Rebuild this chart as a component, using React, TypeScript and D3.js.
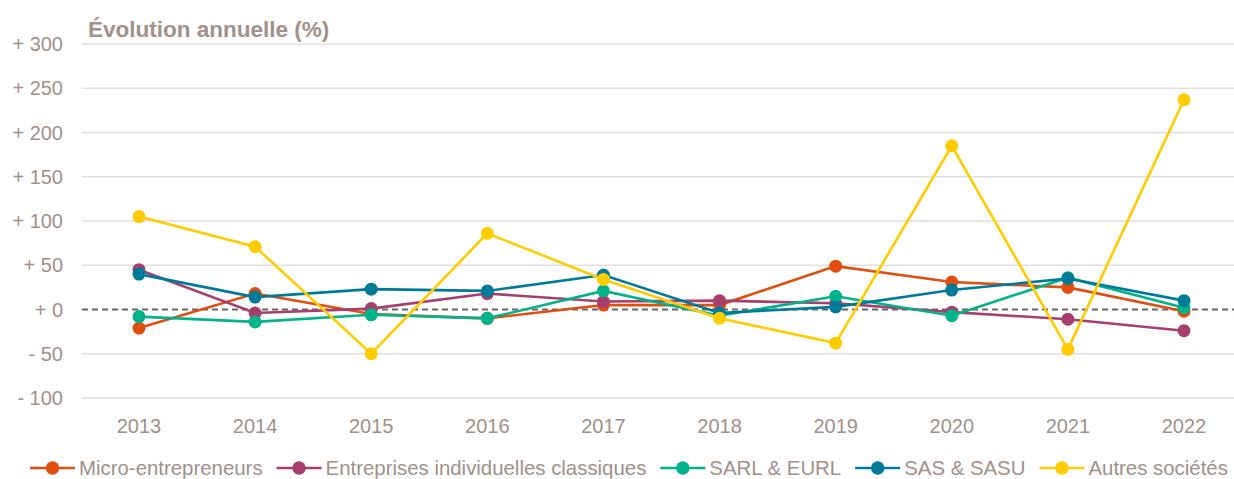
import React, { useLayoutEffect, useRef, useState } from "react";
import * as d3 from "d3";

const years = ["2013", "2014", "2015", "2016", "2017", "2018", "2019", "2020", "2021", "2022"];
const yTicks = [-100, -50, 0, 50, 100, 150, 200, 250, 300];

const micro = [-21, 18, -5, -10, 5, 5, 49, 31, 25, -2];
const entreprises = [45, -4, 1, 18, 9, 10, 7, -3, -11, -24];
const sarl = [-8, -14, -6, -10, 21, -7, 15, -7, 36, 2];
const sas = [40, 14, 23, 21, 39, -4, 3, 22, 35, 10];
const autres = [105, 71, -50, 86, 34, -10, -38, 185, -45, 237];

const series = [
  { name: "Micro-entrepreneurs", color: "#e04e10", values: micro },
  { name: "Entreprises individuelles classiques", color: "#a63f6e", values: entreprises },
  { name: "SARL & EURL", color: "#00b38a", values: sarl },
  { name: "SAS & SASU", color: "#007a99", values: sas },
  { name: "Autres sociétés", color: "#ffcc00", values: autres },
];

const W = 1234;
const H = 479;
const textColor = "#a0918a";
const font = "'Liberation Sans', Arial, sans-serif";

export default function App() {
  const legendRefs = useRef<(SVGTextElement | null)[]>([]);
  const [widths, setWidths] = useState<number[]>(series.map((s) => s.name.length * 10));

  useLayoutEffect(() => {
    const w = legendRefs.current.map((el) => (el ? el.getComputedTextLength() : 0));
    setWidths(w);
  }, []);

  const x = d3.scalePoint().domain(years).range([139, 1184]);
  const y = d3.scaleLinear().domain([-100, 300]).range([398, 44]);

  const line = d3
    .line<number>()
    .x((_, i) => x(years[i]) as number)
    .y((d) => y(d));

  // legend layout
  const markerW = 45;
  const gap = 4;
  const itemGap = 14;
  let cursor = 30;
  const legendX = series.map((_, i) => {
    const start = cursor;
    cursor += markerW + gap + widths[i] + itemGap;
    return start;
  });

  return (
    <svg
      width={W}
      height={H}
      style={{ position: "absolute", left: 0, top: 0, background: "#fff" }}
      fontFamily={font}
    >
      <text x={88} y={37} fontSize={22.5} fontWeight="bold" fill={textColor}>
        Évolution annuelle (%)
      </text>

      {yTicks.map((t) => (
        <g key={t}>
          {t !== 0 && (
            <line x1={82} x2={W} y1={y(t)} y2={y(t)} stroke="#e3dfe0" strokeWidth={1.5} />
          )}
          <text x={63} y={y(t) + 7} textAnchor="end" fontSize={20} fill={textColor}>
            {t > 0 ? `+ ${t}` : t < 0 ? `- ${Math.abs(t)}` : "+ 0"}
          </text>
        </g>
      ))}
      <line
        x1={82}
        x2={W}
        y1={y(0)}
        y2={y(0)}
        stroke="#6d6464"
        strokeWidth={2}
        strokeDasharray="6,4"
      />

      {years.map((yr) => (
        <text key={yr} x={x(yr)} y={433} textAnchor="middle" fontSize={20} fill={textColor}>
          {yr}
        </text>
      ))}

      {series.map((s) => (
        <g key={s.name}>
          <path d={line(s.values) || ""} fill="none" stroke={s.color} strokeWidth={2.6} />
          {s.values.map((v, i) => (
            <circle key={i} cx={x(years[i])} cy={y(v)} r={6.5} fill={s.color} />
          ))}
        </g>
      ))}

      {series.map((s, i) => (
        <g key={s.name} transform={`translate(${legendX[i]},468)`}>
          <line x1={0} x2={markerW} y1={0} y2={0} stroke={s.color} strokeWidth={2.6} />
          <circle cx={markerW / 2} cy={0} r={6.7} fill={s.color} />
          <text
            ref={(el) => {
              legendRefs.current[i] = el;
            }}
            x={markerW + gap}
            y={7}
            fontSize={20.4}
            fill={textColor}
          >
            {s.name}
          </text>
        </g>
      ))}
    </svg>
  );
}
